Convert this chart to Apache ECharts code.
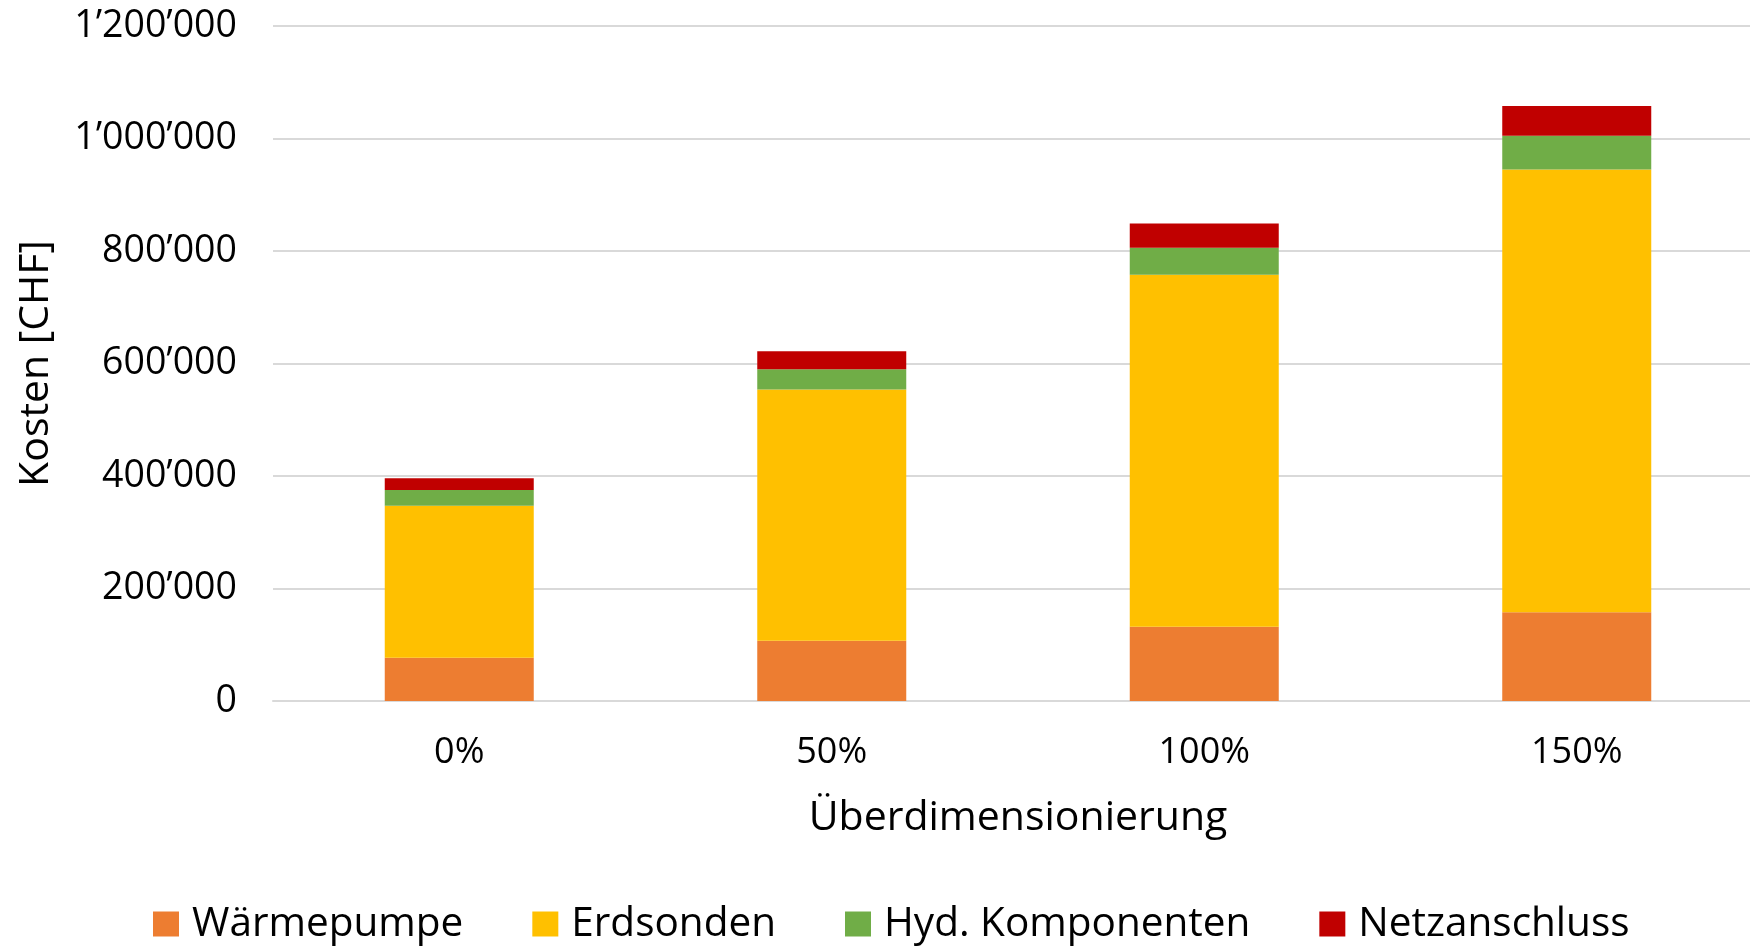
<!DOCTYPE html>
<html>
<head>
<meta charset="utf-8">
<style>
  html, body { margin: 0; padding: 0; background: #ffffff; }
  #chart { width: 1750px; height: 946px; }
</style>
<script src="https://cdn.jsdelivr.net/npm/echarts@6/dist/echarts.min.js"></script>
</head>
<body>
<div id="chart"></div>
<script>
// Oversizing scenarios (x axis)
const categories = ['0%', '50%', '100%', '150%'];

// Cost components in CHF per scenario
const waermepumpe = [77000, 107000, 132000, 158000];
const erdsonden = [270000, 447000, 626000, 787000];
const hydKomponenten = [28000, 36000, 48000, 60000];
const netzanschluss = [21000, 32000, 43000, 53000];

const seriesNames = ['Wärmepumpe', 'Erdsonden', 'Hyd. Komponenten', 'Netzanschluss'];
const seriesColors = ['#ED7D31', '#FFC000', '#70AD47', '#C00000'];
const seriesValues = [waermepumpe, erdsonden, hydKomponenten, netzanschluss];

const FONT = '"Open Sans", sans-serif';

// Swiss thousands separator (’)
function swissFormat(v) {
  return String(Math.round(v)).replace(/\B(?=(\d{3})+(?!\d))/g, '\u2019');
}

const chart = echarts.init(document.getElementById('chart'), null, { renderer: 'canvas' });

chart.setOption({
  animation: false,
  backgroundColor: '#ffffff',
  // plot area runs slightly past the right edge of the canvas
  grid: {
    left: 273, width: 1490, top: 26, bottom: 245,
    containLabel: false,
    outerBoundsMode: 'none'
  },
  legend: {
    data: seriesNames,
    left: 153,
    top: 902,
    padding: 0,
    itemWidth: 26,
    itemHeight: 25,
    itemGap: 69,
    icon: 'rect',
    textStyle: { fontFamily: FONT, fontSize: 40.5, color: '#000000', lineHeight: 44, padding: [0, 0, 0, 8] }
  },
  xAxis: {
    type: 'category',
    data: categories,
    name: 'Überdimensionierung',
    nameLocation: 'middle',
    nameGap: 97,
    nameTextStyle: { fontFamily: FONT, fontSize: 41, color: '#000000' },
    axisLine: { show: true, lineStyle: { color: '#d9d9d9', width: 2 } },
    axisTick: { show: false },
    axisLabel: { fontFamily: FONT, fontSize: 36, color: '#000000', margin: 34 }
  },
  yAxis: {
    type: 'value',
    min: 0,
    max: 1200000,
    interval: 200000,
    name: 'Kosten [CHF]',
    nameLocation: 'middle',
    nameGap: 216,
    nameTextStyle: { fontFamily: FONT, fontSize: 41, color: '#000000' },
    axisLine: { show: false },
    axisTick: { show: false },
    splitLine: { lineStyle: { color: '#d9d9d9', width: 2 } },
    axisLabel: { fontFamily: FONT, fontSize: 37.5, color: '#000000', margin: 36, formatter: swissFormat }
  },
  series: seriesNames.map((name, i) => ({
    name: name,
    type: 'bar',
    stack: 'kosten',
    barWidth: '40%',
    data: seriesValues[i],
    itemStyle: { color: seriesColors[i] }
  }))
});
</script>
</body>
</html>
